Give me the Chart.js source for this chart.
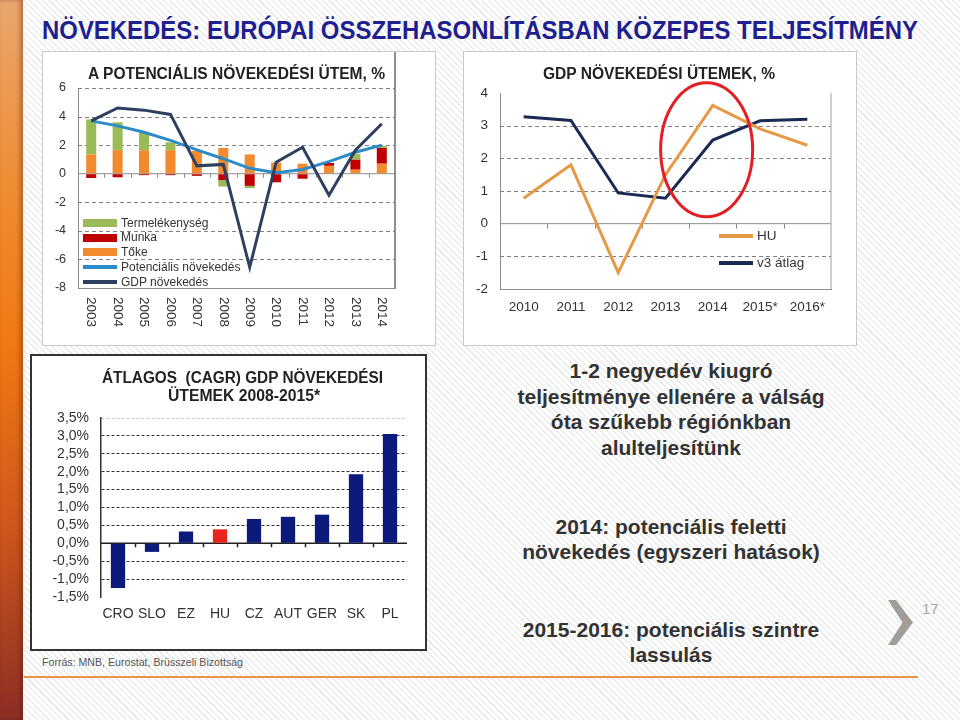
<!DOCTYPE html>
<html lang="hu">
<head>
<meta charset="utf-8">
<title>Növekedés</title>
<script src="https://cdn.jsdelivr.net/npm/chart.js@4.4.1/dist/chart.umd.min.js"></script>
<style>
  html, body { margin: 0; padding: 0; }
  body {
    width: 960px; height: 720px; position: relative; overflow: hidden;
    font-family: "Liberation Sans", Arial, sans-serif;
    background: repeating-linear-gradient(45deg, #ffffff 0px, #ffffff 3px, #ececec 3px, #ececec 4.5px);
  }
  .abs { position: absolute; }
  .sidebar {
    left: 0; top: 0; width: 23px; height: 720px;
    background: linear-gradient(to bottom, #e9a66e 0%, #ee8d34 25%, #f07812 48%, #d0581c 72%, #8c2e24 100%);
    box-shadow: inset -3px 0 4px rgba(80, 20, 0, 0.35);
  }
  .frame { background: #fff; line-height: 0; font-size: 0; }
  .frame canvas { display: block; }
  .title { font-weight: bold; color: #222; transform-origin: 0 0; z-index: 2; white-space: pre; }
  .note { left: 480px; width: 382px; text-align: center; font-weight: bold; font-size: 21px; color: #333; }
  .legend { z-index: 3; font-size: 12px; color: #333; white-space: nowrap; }
</style>
</head>
<body>
<div class="abs sidebar"></div>

<div class="abs title" id="mainTitle" data-fit="876" style="left:42px; top:18px; font-family:'Liberation Sans Narrow','Liberation Sans',Arial,sans-serif; font-size:25px; line-height:25px; color:#1f1f8f;">NÖVEKEDÉS: EURÓPAI ÖSSZEHASONLÍTÁSBAN KÖZEPES TELJESÍTMÉNY</div>

<div class="abs frame" style="left:42px; top:51px; border:1px solid #c9c9c9;"><canvas id="potChart" width="392" height="293"></canvas></div>
<div class="abs title" data-fit="297" style="left:88px; top:66px; font-size:16px; line-height:16px;">A POTENCIÁLIS NÖVEKEDÉSI ÜTEM, %</div>

<div class="abs frame" style="left:463px; top:51px; border:1px solid #c9c9c9;"><canvas id="gdpChart" width="392" height="293"></canvas></div>
<div class="abs title" data-fit="232" style="left:543px; top:66px; font-size:16px; line-height:16px;">GDP NÖVEKEDÉSI ÜTEMEK, %</div>

<div class="abs frame" style="left:30px; top:354px; border:2px solid #333;"><canvas id="cagrChart" width="393" height="293"></canvas></div>
<div class="abs title" data-fit="281" style="left:102px; top:370px; font-size:16px; line-height:16px;">ÁTLAGOS  (CAGR) GDP NÖVEKEDÉSI</div>
<div class="abs title" data-fit="152" style="left:168px; top:388px; font-size:16px; line-height:16px;">ÜTEMEK 2008-2015*</div>

<div class="abs title" data-fit="201" style="left:42px; top:657px; font-weight:normal; color:#555; font-family:'Liberation Sans Narrow','Liberation Sans',Arial,sans-serif; font-size:11px; line-height:11px;">Forrás: MNB, Eurostat, Brüsszeli Bizottság</div>

<div class="abs note" style="top:358px; line-height:25.5px;">1-2 negyedév kiugró<br>teljesítménye ellenére a válság<br>óta szűkebb régiónkban<br>alulteljesítünk</div>
<div class="abs note" style="top:514px; line-height:25px;">2014: potenciális feletti<br>növekedés (egyszeri hatások)</div>
<div class="abs note" style="top:617px; line-height:25px;">2015-2016: potenciális szintre<br>lassulás</div>

<div class="abs" style="left:888px; top:600px; width:25px; height:45px; background:#a39d99; clip-path:polygon(0 0, 32% 0, 100% 50%, 32% 100%, 0 100%, 58% 50%);"></div>
<div class="abs" style="left:922px; top:601px; font-size:15px; line-height:15px; color:#a8a8a8;">17</div>
<div class="abs" style="left:24px; top:676px; width:894px; height:2px; background:#e8944a;"></div>

<script>
// ---- potential growth chart ----
const potYears = ['2003', '2004', '2005', '2006', '2007', '2008', '2009', '2010', '2011', '2012', '2013', '2014'];
const tokeValues = [1.35, 1.65, 1.65, 1.65, 1.6, 1.8, 1.35, 0.78, 0.7, 0.55, 0.28, 0.7];
const munkaValues = [-0.3, -0.25, -0.1, -0.1, -0.15, -0.45, -0.85, -0.6, -0.35, 0.2, 0.7, 1.1];
const termelValues = [2.45, 1.95, 1.25, 0.55, 0, -0.45, -0.15, 0, 0, 0, 0.42, 0.15];
const potencialisValues = [3.7, 3.35, 2.9, 2.33, 1.67, 1.05, 0.38, 0.07, 0.3, 0.85, 1.5, 2.0];
const gdpValues = [3.7, 4.6, 4.45, 4.15, 0.55, 0.65, -6.55, 0.8, 1.85, -1.5, 1.65, 3.5];
const potTicks = [-8, -6, -4, -2, 0, 2, 4, 6];

// ---- GDP growth HU vs V3 ----
const gdpYears = ['2010', '2011', '2012', '2013', '2014', '2015*', '2016*'];
const huValues = [0.78, 1.8, -1.5, 1.5, 3.62, 2.9, 2.4];
const v3Values = [3.27, 3.16, 0.94, 0.78, 2.56, 3.15, 3.2];
const gdpTicks = [-2, -1, 0, 1, 2, 3, 4];

// ---- CAGR 2008-2015 ----
const cagrCountries = ['CRO', 'SLO', 'EZ', 'HU', 'CZ', 'AUT', 'GER', 'SK', 'PL'];
const cagrValues = [-1.25, -0.24, 0.33, 0.39, 0.68, 0.74, 0.8, 1.93, 3.05];
const cagrTicks = [-1.5, -1, -0.5, 0, 0.5, 1, 1.5, 2, 2.5, 3, 3.5];

// annotation on the GDP chart (category index / value of the centre)
const highlight = { x: 3.87, y: 2.26 };

Chart.defaults.font.family = '"Liberation Sans", Arial, sans-serif';
Chart.defaults.color = '#333';

const colors = {
    toke: '#f28a2e', munka: '#c00000', termel: '#9bbb59',
    pot: '#2c8cc9', gdp: '#2e4060',
    hu: '#e69a45', v3: '#1b2a55',
    navy: '#0c1a7c', red: '#e8261e'
};

// dashed horizontal gridlines, dashes built from short solid segments
const dashGrid = {
    id: 'dashGrid',
    beforeDatasetsDraw(chart, args, opts) {
        const { ctx, chartArea: a, scales: { y } } = chart;
        ctx.save();
        ctx.setLineDash([]);
        ctx.lineWidth = 1;
        ctx.strokeStyle = opts.color;
        ctx.beginPath();
        opts.values.forEach(v => {
            const py = Math.round(y.getPixelForValue(v)) + 0.5;
            for (let px = a.left; px < a.right; px += 7) {
                ctx.moveTo(px, py);
                ctx.lineTo(Math.min(px + 4, a.right), py);
            }
        });
        ctx.stroke();
        ctx.restore();
    }
};

// zero line with small tick marks between categories
const zeroLine = {
    id: 'zeroLine',
    beforeDatasetsDraw(chart, args, opts) {
        const { ctx, chartArea: a, scales: { x, y } } = chart;
        const y0 = y.getPixelForValue(0);
        ctx.save();
        ctx.strokeStyle = opts.color;
        ctx.lineWidth = opts.width;
        ctx.beginPath();
        ctx.moveTo(a.left, y0);
        ctx.lineTo(a.right, y0);
        for (let i = 1; i < chart.data.labels.length; i++) {
            const px = Math.round(x.getPixelForValue(i - 0.5)) + 0.5;
            ctx.moveTo(px, y0);
            ctx.lineTo(px, y0 + opts.tickLen);
        }
        ctx.stroke();
        ctx.restore();
    }
};

const rightEdge = {
    id: 'rightEdge',
    afterDraw(chart, args, opts) {
        const { ctx, chartArea: a } = chart;
        ctx.save();
        ctx.strokeStyle = opts.color;
        ctx.lineWidth = opts.width;
        ctx.beginPath();
        ctx.moveTo(a.right, opts.fromTop ? 0 : a.top);
        ctx.lineTo(a.right, a.bottom);
        ctx.stroke();
        ctx.restore();
    }
};

// year labels rotated clockwise, as in the original
const verticalLabels = {
    id: 'verticalLabels',
    afterDraw(chart, args, opts) {
        const { ctx, chartArea: a, scales: { x } } = chart;
        ctx.save();
        ctx.font = opts.font;
        ctx.fillStyle = opts.color;
        ctx.textAlign = 'left';
        ctx.textBaseline = 'middle';
        chart.data.labels.forEach((lab, i) => {
            ctx.save();
            ctx.translate(x.getPixelForValue(i), a.bottom + opts.gap);
            ctx.rotate(Math.PI / 2);
            ctx.fillText(lab, 0, 0);
            ctx.restore();
        });
        ctx.restore();
    }
};

const ellipseMark = {
    id: 'ellipseMark',
    afterDatasetsDraw(chart, args, opts) {
        const { ctx, scales: { x, y } } = chart;
        ctx.save();
        ctx.strokeStyle = opts.color;
        ctx.lineWidth = opts.width;
        ctx.beginPath();
        ctx.ellipse(x.getPixelForValue(highlight.x), y.getPixelForValue(highlight.y), opts.rx, opts.ry, 0, 0, Math.PI * 2);
        ctx.stroke();
        ctx.restore();
    }
};

function fixedTicks(list) {
    return scale => { scale.ticks = list.map(v => ({ value: v })); };
}

// Potential growth chart
new Chart(document.getElementById('potChart'), {
    type: 'bar',
    data: {
        labels: potYears,
        datasets: [
            { type: 'line', label: 'GDP növekedés', data: gdpValues, borderColor: colors.gdp, borderWidth: 3, pointRadius: 0, tension: 0, stack: 'gdp', order: 0 },
            { type: 'line', label: 'Potenciális növekedés', data: potencialisValues, borderColor: colors.pot, borderWidth: 3, pointRadius: 0, tension: 0, stack: 'pot', order: 1 },
            { label: 'Tőke', data: tokeValues, backgroundColor: colors.toke, stack: 'bars', order: 2 },
            { label: 'Munka', data: munkaValues, backgroundColor: colors.munka, stack: 'bars', order: 2 },
            { label: 'Termelékenység', data: termelValues, backgroundColor: colors.termel, stack: 'bars', order: 2 }
        ]
    },
    options: {
        responsive: false,
        animation: false,
        layout: { padding: { left: 0, top: 36, right: 40, bottom: 0 } },
        datasets: { bar: { barPercentage: 0.38, categoryPercentage: 1 } },
        plugins: {
            legend: { display: false }, tooltip: { enabled: false },
            dashGrid: { color: '#808080', values: potTicks.filter(v => v !== 0 && v !== -8) },
            zeroLine: { color: '#8c8c8c', width: 1, tickLen: 4 },
            rightEdge: { color: '#6a6a6a', width: 1.5, fromTop: true },
            verticalLabels: { font: '13.5px "Liberation Sans", Arial, sans-serif', color: '#333', gap: 9 }
        },
        scales: {
            x: {
                stacked: true,
                ticks: { display: false },
                grid: { display: false },
                border: { color: '#8c8c8c' },
                afterFit: s => { s.height = 57; }
            },
            y: {
                stacked: true, min: -8, max: 6,
                afterBuildTicks: fixedTicks(potTicks),
                ticks: { padding: 12, font: { size: 12.5 }, color: '#333', autoSkip: false },
                grid: { color: 'rgba(0,0,0,0)', drawTicks: false },
                border: { color: '#8c8c8c' },
                afterFit: s => { s.width = 35; }
            }
        }
    },
    plugins: [dashGrid, zeroLine, rightEdge, verticalLabels]
});

// GDP growth chart
new Chart(document.getElementById('gdpChart'), {
    type: 'line',
    data: {
        labels: gdpYears,
        datasets: [
            { label: 'HU', data: huValues, borderColor: colors.hu, borderWidth: 3, pointRadius: 0, tension: 0 },
            { label: 'v3 átlag', data: v3Values, borderColor: colors.v3, borderWidth: 3, pointRadius: 0, tension: 0 }
        ]
    },
    options: {
        responsive: false,
        animation: false,
        layout: { padding: { left: 0, top: 41, right: 25, bottom: 0 } },
        plugins: {
            legend: { display: false }, tooltip: { enabled: false },
            dashGrid: { color: '#808080', values: gdpTicks.filter(v => v !== 0 && v !== -2 && v !== 4) },
            zeroLine: { color: '#8c8c8c', width: 1, tickLen: 5 },
            rightEdge: { color: '#a0a0a0', width: 1 },
            ellipseMark: { color: '#e31e24', width: 3, rx: 46, ry: 67 }
        },
        scales: {
            x: {
                offset: true,
                ticks: { padding: 2, font: { size: 13.5 }, color: '#333', maxRotation: 0, autoSkip: false },
                grid: { display: false },
                border: { color: '#8c8c8c' },
                afterFit: s => { s.height = 56; }
            },
            y: {
                min: -2, max: 4,
                afterBuildTicks: fixedTicks(gdpTicks),
                ticks: { padding: 12, font: { size: 13.5 }, color: '#333', autoSkip: false },
                grid: { color: 'rgba(0,0,0,0)', drawTicks: false },
                border: { color: '#8c8c8c' },
                afterFit: s => { s.width = 36; }
            }
        }
    },
    plugins: [dashGrid, zeroLine, rightEdge, ellipseMark]
});

// CAGR chart
new Chart(document.getElementById('cagrChart'), {
    type: 'bar',
    data: {
        labels: cagrCountries,
        datasets: [{
            label: 'CAGR',
            data: cagrValues,
            backgroundColor: cagrCountries.map(c => c === 'HU' ? colors.red : colors.navy),
            barPercentage: 0.42,
            categoryPercentage: 1
        }]
    },
    options: {
        responsive: false,
        animation: false,
        layout: { padding: { left: 0, top: 62, right: 18, bottom: 0 } },
        plugins: {
            legend: { display: false }, tooltip: { enabled: false },
            zeroLine: { color: '#222', width: 1.5, tickLen: 4 }
        },
        scales: {
            x: {
                ticks: { padding: 1, font: { size: 14 }, color: '#333', maxRotation: 0, autoSkip: false },
                grid: { display: false },
                border: { display: false },
                afterFit: s => { s.height = 52; }
            },
            y: {
                min: -1.5, max: 3.5,
                afterBuildTicks: fixedTicks(cagrTicks),
                ticks: {
                    padding: 12, font: { size: 14 }, color: '#333', autoSkip: false,
                    callback: v => v.toFixed(1).replace('.', ',') + '%'
                },
                grid: {
                    drawTicks: false,
                    color: c => {
                        if (!c.tick) return '#333';
                        if (c.tick.value === 0 || c.tick.value === -1.5) return 'rgba(0,0,0,0)';
                        return c.tick.value === 3.5 ? '#c8c8c8' : '#333';
                    }
                },
                border: { color: '#333', width: 1.5, dash: [3, 2] },
                afterFit: s => { s.width = 69; }
            }
        }
    },
    plugins: [zeroLine]
});

// HTML legends placed inside the plot areas
function addLegend(items, swatchX, firstY, rowH, textX, fontSize) {
    items.forEach((it, i) => {
        const cy = firstY + i * rowH;
        const h = it.kind === 'bar' ? 8 : 3.5;
        const sw = document.createElement('div');
        sw.className = 'abs legend';
        Object.assign(sw.style, { left: swatchX + 'px', top: (cy - h / 2) + 'px', width: '34px', height: h + 'px', background: it.color });
        document.body.appendChild(sw);
        const tx = document.createElement('div');
        tx.className = 'abs legend';
        tx.textContent = it.label;
        Object.assign(tx.style, { left: textX + 'px', top: (cy - fontSize * 0.52) + 'px', fontSize: fontSize + 'px', lineHeight: fontSize + 'px' });
        document.body.appendChild(tx);
    });
}

addLegend([
    { label: 'Termelékenység', color: colors.termel, kind: 'bar' },
    { label: 'Munka', color: colors.munka, kind: 'bar' },
    { label: 'Tőke', color: colors.toke, kind: 'bar' },
    { label: 'Potenciális növekedés', color: colors.pot, kind: 'line' },
    { label: 'GDP növekedés', color: colors.gdp, kind: 'line' }
], 83, 223, 14.7, 121, 12);

addLegend([
    { label: 'HU', color: colors.hu, kind: 'line' },
    { label: 'v3 átlag', color: colors.v3, kind: 'line' }
], 719, 236, 27, 757, 13.5);

// stretch / squeeze titles to the widths seen on the slide
document.querySelectorAll('[data-fit]').forEach(el => {
    const w = el.getBoundingClientRect().width;
    el.style.transform = 'scaleX(' + (parseFloat(el.dataset.fit) / w) + ')';
});
</script>
</body>
</html>
